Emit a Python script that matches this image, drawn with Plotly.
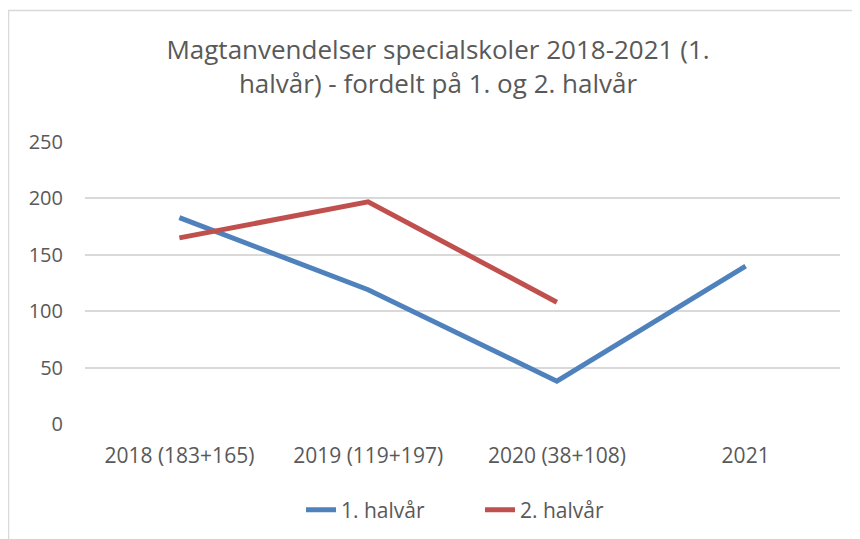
import plotly.graph_objects as go

categories = ["2018 (183+165)", "2019 (119+197)", "2020 (38+108)", "2021"]
first_half = [183, 119, 38, 140]
second_half = [165, 197, 108, None]
y_ticks = [0, 50, 100, 150, 200, 250]

FONT = "Open Sans"
TXT = "#595959"

fig = go.Figure()
fig.add_trace(go.Scatter(x=categories, y=first_half, mode="lines", name="1. halvår",
                         line=dict(color="#4F81BD", width=5)))
fig.add_trace(go.Scatter(x=categories, y=second_half, mode="lines", name="2. halvår",
                         line=dict(color="#C0504D", width=5)))

OFF = 8  # page body margin
W, H = 860, 539
# plot area in page pixels: x 85..840, y 142..424
L = 85 - OFF
T = 142 - OFF
R = W - (840 - OFF)
B = H - (424 - OFF)
pw, ph = W - L - R, H - T - B

def px_x(x):
    return (x - OFF - L) / pw

def px_y(y):
    return (H - B - (y - OFF)) / ph

fig.update_layout(
    width=W, height=H,
    margin=dict(l=L, r=R, t=T, b=B),
    paper_bgcolor="white", plot_bgcolor="white",
    font=dict(family=FONT, color=TXT, size=20),
    title=dict(text="Magtanvendelser specialskoler 2018-2021 (1.<br>halvår) - fordelt på 1. og 2. halvår",
               x=0.5, xanchor="center", y=1 - (59 - OFF) / H, yanchor="middle", yref="container",
               font=dict(family=FONT, size=26, color=TXT)),
    xaxis=dict(type="category", range=[-0.5, 3.5], showgrid=False, showline=False,
               zeroline=False, ticks="", tickfont=dict(size=21, color=TXT), ticklabelstandoff=17),
    yaxis=dict(range=[0, 250], tickvals=y_ticks, showgrid=True, gridcolor="#D9D9D9", gridwidth=1.5,
               zeroline=False, showline=False, ticks="", tickfont=dict(size=20, color=TXT),
               ticklabelstandoff=21),
    legend=dict(orientation="h", x=px_x(301), xanchor="left", y=px_y(510), yanchor="middle",
                font=dict(size=21, color=TXT), traceorder="normal",
                entrywidth=134, entrywidthmode="pixels"),
    shapes=[
        dict(type="line", xref="paper", yref="paper", x0=px_x(8), x1=px_x(W + 10),
             y0=px_y(10.5), y1=px_y(10.5), line=dict(color="#D9D9D9", width=1.5)),
        dict(type="line", xref="paper", yref="paper", x0=px_x(8.5), x1=px_x(8.5),
             y0=px_y(10.5), y1=px_y(H + 10), line=dict(color="#D9D9D9", width=1.5)),
    ],
)

fig.write_html("out.html")
